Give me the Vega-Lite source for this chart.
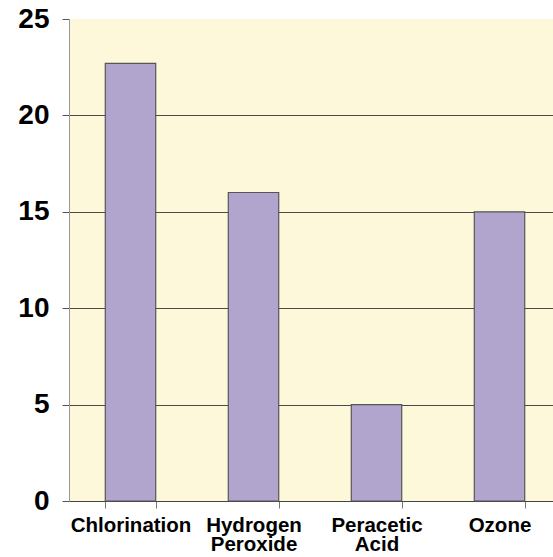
{
  "$schema": "https://vega.github.io/schema/vega-lite/v6.json",
  "width": 484,
  "height": 482,
  "autosize": {"type": "none"},
  "padding": {"left": 69, "top": 19, "right": 0, "bottom": 56},
  "background": "#ffffff",
  "config": {
    "view": {"fill": "#FCF8D9", "stroke": null},
    "font": "Liberation Sans"
  },
  "data": {
    "values": [
      {"method": "Chlorination", "value": 22.7},
      {"method": "Hydrogen Peroxide", "value": 16.0},
      {"method": "Peracetic Acid", "value": 5.0},
      {"method": "Ozone", "value": 15.0}
    ]
  },
  "mark": {"type": "bar", "fill": "#B1A5CD", "stroke": "#555555", "strokeWidth": 1.2},
  "encoding": {
    "x": {
      "field": "method",
      "type": "nominal",
      "sort": null,
      "scale": {"range": [0, 492], "paddingInner": 0.59, "paddingOuter": 0.295},
      "axis": {
        "title": null,
        "labelAngle": 0,
        "labelExpr": "split(datum.label, ' ')",
        "labelFont": "Liberation Sans",
        "labelFontSize": 20.5,
        "labelFontWeight": "bold",
        "labelColor": "#000000",
        "labelLineHeight": 19,
        "labelPadding": 7,
        "labelBaseline": "top",
        "labelOverlap": false,
        "tickBand": "extent",
        "tickSize": 7,
        "tickColor": "#777777",
        "domainColor": "#444444",
        "domainWidth": 1
      }
    },
    "y": {
      "field": "value",
      "type": "quantitative",
      "scale": {"domain": [0, 25], "nice": false},
      "axis": {
        "title": null,
        "values": [0, 5, 10, 15, 20, 25],
        "labelFont": "Liberation Sans",
        "labelFontSize": 28,
        "labelFontWeight": "bold",
        "labelColor": "#000000",
        "labelPadding": 13,
        "tickSize": 7,
        "tickColor": "#555555",
        "domainColor": "#999999",
        "grid": true,
        "gridColor": {"condition": {"test": "datum.value == 25", "value": "transparent"}, "value": "#4a4a4a"},
        "gridWidth": 1
      }
    }
  }
}
